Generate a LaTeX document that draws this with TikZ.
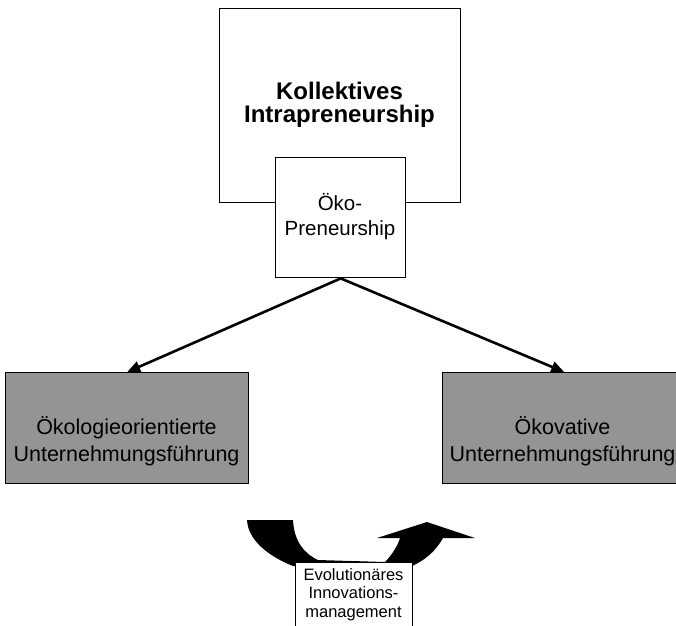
\documentclass[tikz,border=0pt]{standalone}
\usepackage{fontspec}
\setmainfont{Liberation Sans}
\usetikzlibrary{arrows.meta}
\begin{document}
\begin{tikzpicture}[x=1pt,y=-1pt,
  box/.style={draw=black, line width=1.4pt, fill=white, inner sep=0pt, anchor=north west},
  graybox/.style={draw=black, line width=1.4pt, fill=black!42, inner sep=0pt, anchor=north west},
  lbl/.style={align=center, inner sep=0pt},
  conn/.style={line width=2.6pt, -{Triangle[length=13pt,width=11pt]}}]
\useasboundingbox (0,0) rectangle (676,625);
\fill[white] (0,0) rectangle (676,625);
% top boxes
\node[box, minimum width=241pt, minimum height=194pt] (big) at (219,8) {};
\node[box, minimum width=130pt, minimum height=120pt] (small) at (275,157) {};
\node[lbl, font=\bfseries\fontsize{24}{23}\selectfont] (kt) at (339.5,105) {Kollektives\\Intrapreneurship};
\node[lbl, font=\fontsize{20.5}{25}\selectfont] (ot) at (340,217) {Öko-\\Preneurship};
% grey boxes
\node[graybox, minimum width=243pt, minimum height=111pt] (left) at (5,372) {};
\node[graybox, minimum width=243pt, minimum height=111pt] (right) at (442,372) {};
\node[lbl, font=\fontsize{21.5}{27}\selectfont] (lt) at (126.5,441) {Ökologieorientierte\\Unternehmungsführung};
\node[lbl, font=\fontsize{21.5}{27}\selectfont] (rt) at (562.5,441) {Ökovative\\Unternehmungsführung};
% connectors
\draw[conn] (small.south) -- (left.north);
\draw[conn] (small.south) -- (right.north);
% curved black arrow
\fill[black] (247,520) -- (293,520) .. controls (294,540) and (303,553) .. (318,560)
  -- (385,562) .. controls (392,555) and (398,545) .. (400,538)
  -- (377,538) -- (427,522) -- (475,538) -- (443,538)
  .. controls (435,552) and (425,560) .. (412,566)
  -- (293,566) .. controls (268,556) and (248,540) .. cycle;
% bottom box
\node[box, minimum width=117pt, minimum height=80pt] (evo) at (295,562) {};
\node[lbl, font=\fontsize{16.5}{18.5}\selectfont] (et) at (353.5,594.4) {Evolutionäres\\Innovations-\\management};
\end{tikzpicture}
\end{document}
